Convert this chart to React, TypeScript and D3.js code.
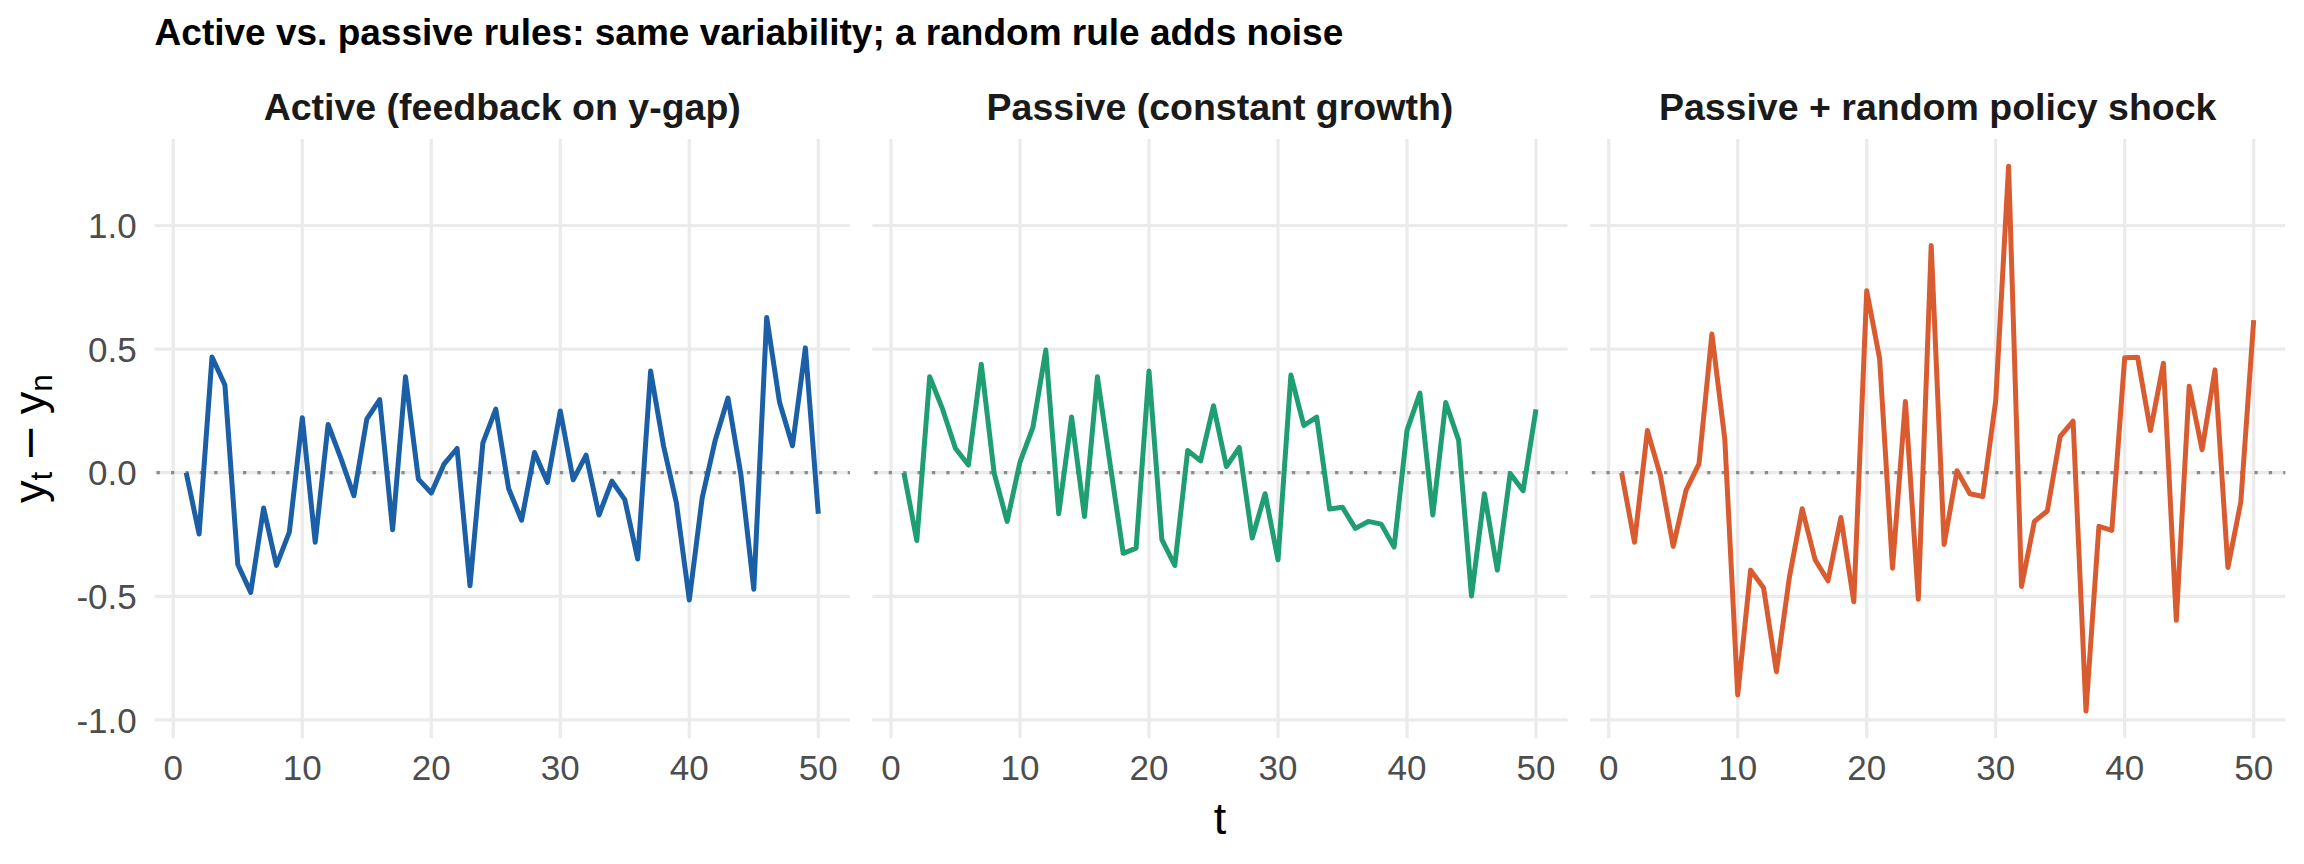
import React from 'react';
import * as d3 from 'd3';

// Time index and the three simulated output-gap paths (y_t - y_n)
const periods = d3.range(1, 51);

const activeGap = [
  0.0, -0.248, 0.468, 0.355, -0.371, -0.484, -0.143, -0.375, -0.239, 0.222,
  -0.281, 0.195, 0.057, -0.093, 0.217, 0.296, -0.231, 0.388, -0.026, -0.082,
  0.036, 0.098, -0.457, 0.121, 0.257, -0.065, -0.192, 0.082, -0.039, 0.25,
  -0.029, 0.071, -0.171, -0.034, -0.109, -0.349, 0.411, 0.109, -0.122, -0.515,
  -0.101, 0.129, 0.302, -0.008, -0.471, 0.628, 0.284, 0.109, 0.505, -0.166,
];

const passiveGap = [
  0.0, -0.274, 0.388, 0.257, 0.098, 0.031, 0.439, -0.003, -0.197, 0.043,
  0.183, 0.496, -0.166, 0.225, -0.177, 0.388, 0.03, -0.326, -0.305, 0.411,
  -0.271, -0.375, 0.09, 0.048, 0.271, 0.025, 0.102, -0.264, -0.085, -0.352,
  0.395, 0.191, 0.225, -0.147, -0.14, -0.225, -0.197, -0.208, -0.301, 0.171,
  0.322, -0.171, 0.284, 0.132, -0.499, -0.085, -0.394, -0.003, -0.073, 0.256,
];

const shockGap = [
  0.0, -0.281, 0.171, -0.01, -0.298, -0.07, 0.036, 0.561, 0.136, -0.899,
  -0.394, -0.465, -0.805, -0.425, -0.146, -0.352, -0.437, -0.181, -0.522, 0.736,
  0.462, -0.386, 0.288, -0.512, 0.919, -0.29, 0.008, -0.085, -0.096, 0.291,
  1.24, -0.46, -0.197, -0.155, 0.147, 0.209, -0.964, -0.217, -0.233, 0.465,
  0.467, 0.171, 0.443, -0.597, 0.35, 0.093, 0.416, -0.383, -0.119, 0.617,
];

const panelTitles = [
  'Active (feedback on y-gap)',
  'Passive (constant growth)',
  'Passive + random policy shock',
];
const panelColors = ['#1b5fa7', '#1f9e72', '#d95c30'];
const xTicks = [0, 10, 20, 30, 40, 50];
const yTicks = [-1, -0.5, 0, 0.5, 1];
const yTickLabels = ['-1.0', '-0.5', '0.0', '0.5', '1.0'];

const W = 2304;
const H = 864;
const FONT = '"Liberation Sans", Arial, Helvetica, sans-serif';

// panel geometry (facet_wrap, fixed scales)
const panelLeft = 154.6;
const panelStep = 717.7;
const panelW = 695.3;
const panelTop = 138.9;
const panelBottom = 738.3;

// ggplot-style 5% expansion
const expand = (ext: [number, number]): [number, number] => {
  const pad = (ext[1] - ext[0]) * 0.05;
  return [ext[0] - pad, ext[1] + pad];
};

const App: React.FC = () => {
  const series = [activeGap, passiveGap, shockGap];
  const allValues = series.flat();

  const xDomain = expand(d3.extent(periods) as [number, number]);
  const yDomain = expand(d3.extent(allValues) as [number, number]);

  const y = d3.scaleLinear().domain(yDomain).range([panelBottom, panelTop]);

  return (
    <svg
      width={W}
      height={H}
      style={{ position: 'absolute', left: 0, top: 0, background: '#fff' }}
      fontFamily={FONT}
    >
      <rect width={W} height={H} fill="#fff" />

      {/* plot title */}
      <text x={panelLeft} y={45} fontSize={37} fontWeight="bold" fill="#000">
        Active vs. passive rules: same variability; a random rule adds noise
      </text>

      {series.map((vals, i) => {
        const left = panelLeft + i * panelStep;
        const x = d3.scaleLinear().domain(xDomain).range([left, left + panelW]);
        const line = d3
          .line<number>()
          .x((_, j) => x(periods[j]))
          .y(d => y(d));
        const dotted = y(0);
        return (
          <g key={i}>
            {/* strip label */}
            <text
              x={left + panelW / 2}
              y={120}
              textAnchor="middle"
              fontSize={37.5}
              fontWeight="bold"
              fill="#1a1a1a"
            >
              {panelTitles[i]}
            </text>

            {/* major grid */}
            {yTicks.map(t => (
              <line
                key={'h' + t}
                x1={left}
                x2={left + panelW}
                y1={y(t)}
                y2={y(t)}
                stroke="#ebebeb"
                strokeWidth={3.2}
              />
            ))}
            {xTicks.map(t => (
              <line
                key={'v' + t}
                x1={x(t)}
                x2={x(t)}
                y1={panelTop}
                y2={panelBottom}
                stroke="#ebebeb"
                strokeWidth={3.2}
              />
            ))}

            {/* zero reference */}
            <line
              x1={left}
              x2={left + panelW}
              y1={dotted}
              y2={dotted}
              stroke="#8c8c8c"
              strokeWidth={3.3}
              strokeDasharray="3.3 11.1"
              strokeDashoffset={-2}
            />

            <path
              d={line(vals) ?? ''}
              fill="none"
              stroke={panelColors[i]}
              strokeWidth={5}
              strokeLinejoin="round"
            />

            {/* x tick labels */}
            {xTicks.map(t => (
              <text
                key={'xl' + t}
                x={x(t)}
                y={780}
                textAnchor="middle"
                fontSize={35}
                fill="#4d4d4d"
              >
                {t}
              </text>
            ))}
          </g>
        );
      })}

      {/* y tick labels (first panel only) */}
      {yTicks.map((t, k) => (
        <text
          key={'yl' + t}
          x={136.7}
          y={y(t)}
          dy="0.36em"
          textAnchor="end"
          fontSize={35}
          fill="#4d4d4d"
        >
          {yTickLabels[k]}
        </text>
      ))}

      {/* axis titles */}
      <text
        x={panelLeft + (2 * panelStep + panelW) / 2}
        y={834}
        textAnchor="middle"
        fontSize={45}
        fill="#000"
      >
        t
      </text>
      <text
        transform={`translate(45, ${(panelTop + panelBottom) / 2}) rotate(-90)`}
        textAnchor="middle"
        fontSize={45}
        fill="#000"
      >
        <tspan>y</tspan>
        <tspan dy={7} fontSize={31.5}>
          t
        </tspan>
        <tspan dy={-7} dx={10} fontFamily="DejaVu Sans">
          −
        </tspan>
        <tspan dx={10}>y</tspan>
        <tspan dy={7} fontSize={31.5}>
          n
        </tspan>
      </text>
    </svg>
  );
};

export default App;
